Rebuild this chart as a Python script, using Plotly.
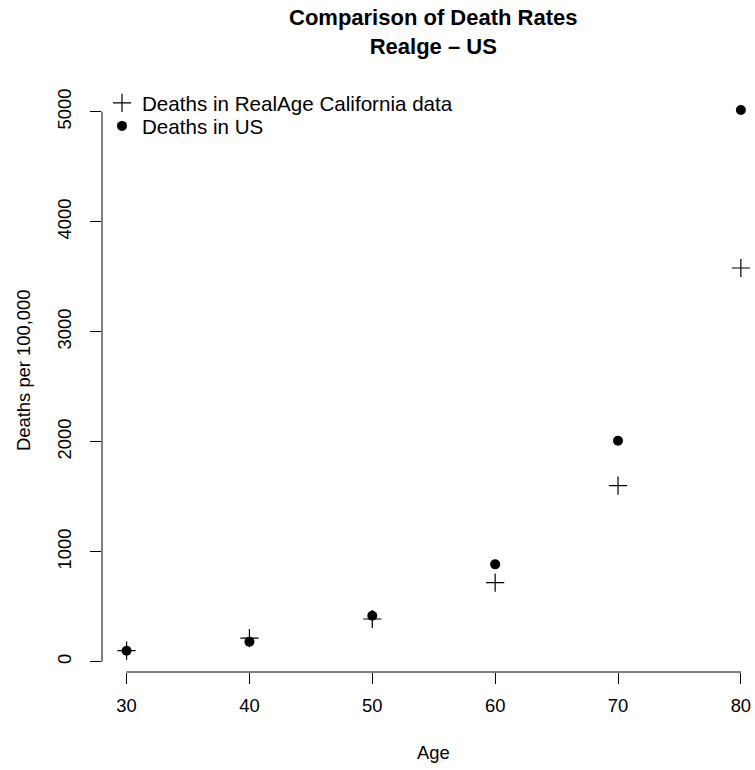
import plotly.graph_objects as go

ages = [30, 40, 50, 60, 70, 80]
realage_deaths = [100, 215, 388, 718, 1600, 3579]
us_deaths = [100, 182, 418, 885, 2009, 5015]
x_ticks = [30, 40, 50, 60, 70, 80]
y_ticks = [0, 1000, 2000, 3000, 4000, 5000]

FONT = "Liberation Sans, Arial, Helvetica, sans-serif"
W, H = 755, 770
ML, MR, MT, MB = 102, 0, 88, 98
PW, PH = W - ML - MR, H - MT - MB


def px_x(x):
    return (x - ML) / PW


def px_y(y):
    return (H - MB - y) / PH


fig = go.Figure()
fig.add_trace(go.Scatter(
    x=ages, y=realage_deaths, mode="markers",
    name="Deaths in RealAge California data", legend="legend",
    marker=dict(symbol="cross-thin", size=13, color="black",
                line=dict(color="black", width=1.2)),
))
fig.add_trace(go.Scatter(
    x=ages, y=us_deaths, mode="markers",
    name="Deaths in US", legend="legend2",
    marker=dict(symbol="circle", size=10, color="black", line=dict(width=0)),
))

legend_style = dict(xanchor="left", yanchor="top",
                    font=dict(size=20.6, family=FONT, color="black"),
                    bgcolor="rgba(0,0,0,0)", borderwidth=0)

fig.update_layout(
    width=W, height=H,
    margin=dict(l=ML, r=MR, t=MT, b=MB),
    plot_bgcolor="white", paper_bgcolor="white",
    font=dict(family=FONT, color="black", size=18.4),
    showlegend=True,
    legend=dict(x=0.0, y=px_y(83), **legend_style),
    legend2=dict(x=0.0, y=px_y(106), **legend_style),
    xaxis=dict(range=[28, 28 + PW / 12.286],
               tickvals=x_ticks, ticktext=[str(v) for v in x_ticks],
               ticks="outside", ticklen=11, tickwidth=1, tickcolor="black",
               showline=False, showgrid=False, zeroline=False,
               ticklabelstandoff=6, tickfont=dict(size=18.4)),
    yaxis=dict(range=[-93.6, 5215.5],
               tickvals=y_ticks, ticktext=[str(v) for v in y_ticks],
               ticks="outside", ticklen=11, tickwidth=1, tickcolor="black",
               tickangle=-90,
               showline=False, showgrid=False, zeroline=False,
               ticklabelstandoff=12, tickfont=dict(size=18.4)),
    shapes=[
        dict(type="line", xref="paper", yref="y", x0=0, x1=0,
             y0=y_ticks[0], y1=y_ticks[-1], line=dict(color="black", width=1)),
        dict(type="line", xref="x", yref="paper", x0=x_ticks[0], x1=x_ticks[-1],
             y0=0, y1=0, line=dict(color="black", width=1)),
    ],
    annotations=[
        dict(text="<b>Comparison of Death Rates<br>Realge – US</b>",
             xref="paper", yref="paper", x=px_x(433), y=px_y(32),
             showarrow=False, xanchor="center", yanchor="middle", align="center",
             font=dict(size=22, family=FONT, color="black")),
        dict(text="Age", xref="paper", yref="paper",
             x=px_x(433), y=px_y(752),
             showarrow=False, xanchor="center", yanchor="middle",
             font=dict(size=18.4, family=FONT, color="black")),
        dict(text="Deaths per 100,000", xref="paper", yref="paper",
             x=px_x(23), y=px_y(370),
             showarrow=False, xanchor="center", yanchor="middle", textangle=-90,
             font=dict(size=18.4, family=FONT, color="black")),
    ],
)

fig.write_html("out.html",
               config={"displayModeBar": False},
               post_script="document.body.style.margin='0';document.body.style.overflow='hidden';")
